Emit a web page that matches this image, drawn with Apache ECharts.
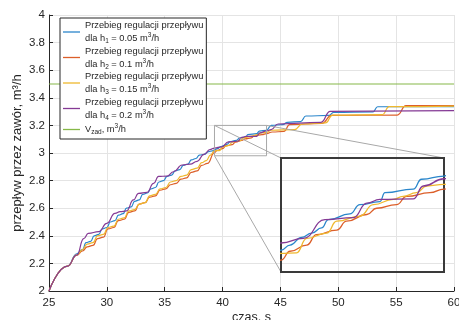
<!DOCTYPE html>
<html>
<head>
<meta charset="utf-8">
<script src="https://cdn.jsdelivr.net/npm/echarts@6/dist/echarts.min.js"></script>
<style>
  html, body { margin: 0; padding: 0; background: #fff; }
  #EChart { width: 459px; height: 320px; }
</style>
</head>
<body>
<div id="EChart"></div>
<script>
// czas [s], przepływ [m3/h]
const h1 = [[25,2.0],[26.6,2.18],[27.4,2.27],[27.9,2.30],[28.2,2.35],[28.6,2.36],[28.9,2.40],[29.3,2.41],[29.6,2.45],[30.0,2.46],
  [30.3,2.50],[30.7,2.51],[31.0,2.55],[31.4,2.56],[31.7,2.60],[32.1,2.61],[32.4,2.65],[32.8,2.66],[33.1,2.70],
  [33.5,2.71],[33.8,2.74],[34.2,2.75],[34.5,2.79],[34.9,2.80],[35.2,2.83],[35.6,2.84],[35.9,2.87],[36.3,2.88],
  [36.6,2.91],[37.0,2.92],[37.3,2.95],[37.7,2.96],[38.0,2.985],[38.4,2.99],[38.8,3.01],[39.1,3.015],
  [39.3,3.022],[39.55,3.032],[39.87,3.047],[40.15,3.055],[40.42,3.065],[40.61,3.081],[41.2,3.092],[41.48,3.110],
  [42.03,3.116],[42.17,3.133],[42.95,3.140],[43.18,3.159],[43.8,3.165],[44.2,3.2],[45.2,3.206],[45.6,3.222],
  [46.75,3.228],[47.2,3.268],[49.2,3.272],[49.6,3.295],[53.0,3.298],[53.4,3.335],[60,3.336]];
const h2 = [[25,2.0],[26.6,2.18],[27.4,2.26],[27.9,2.29],[28.3,2.32],[28.8,2.33],[29.2,2.38],[29.7,2.39],[30.1,2.45],[30.6,2.46],
  [31.0,2.51],[31.5,2.52],[31.9,2.57],[32.4,2.58],[32.8,2.63],[33.3,2.64],[33.7,2.68],[34.2,2.69],[34.6,2.73],
  [35.1,2.74],[35.5,2.77],[36.0,2.78],[36.4,2.81],[36.9,2.82],[37.3,2.86],[37.8,2.87],[38.2,2.91],[38.7,2.925],
  [39.3,3.003],[39.55,3.02],[40.01,3.032],[40.28,3.052],[40.84,3.061],[41.11,3.078],[41.67,3.091],[41.94,3.103],
  [42.49,3.11],[42.77,3.126],[43.41,3.133],[43.8,3.14],[44.3,3.152],[45.3,3.156],[45.8,3.205],[48.6,3.215],
  [49.4,3.272],[55.1,3.275],[55.85,3.343],[60,3.344]];
const h3 = [[25,2.0],[26.6,2.18],[27.4,2.26],[27.9,2.30],[28.3,2.34],[28.8,2.35],[29.2,2.40],[29.7,2.41],[30.1,2.46],[30.6,2.47],
  [31.0,2.52],[31.5,2.53],[31.9,2.58],[32.4,2.59],[32.8,2.63],[33.3,2.64],[33.7,2.69],[34.2,2.70],[34.6,2.74],
  [35.1,2.75],[35.5,2.79],[36.0,2.80],[36.4,2.83],[36.9,2.84],[37.3,2.88],[37.8,2.89],[38.2,2.93],[38.6,2.945],
  [38.95,2.985],[39.3,3.016],[39.73,3.017],[40.01,3.045],[40.56,3.055],[40.84,3.078],[41.48,3.088],[41.85,3.11],
  [42.4,3.12],[42.67,3.126],[43.04,3.133],[43.32,3.146],[43.8,3.149],[44.2,3.165],[46.2,3.17],[46.9,3.21],
  [48.9,3.218],[49.5,3.275],[53.8,3.278],[54.4,3.336],[60,3.34]];
const h4 = [[25,2.0],[26.6,2.18],[27.4,2.26],[28.0,2.38],[28.4,2.418],[29.3,2.43],[30.0,2.49],[30.7,2.563],[31.15,2.575],
  [31.7,2.58],[32.3,2.66],[32.74,2.708],[33.47,2.715],[34.04,2.78],[34.47,2.83],[35.2,2.833],[35.77,2.864],
  [36.5,2.913],[37.2,2.92],[37.8,2.94],[38.4,2.99],[38.9,3.025],[39.3,3.036],[39.92,3.045],[40.51,3.081],
  [41.3,3.085],[41.67,3.113],[42.03,3.12],[42.95,3.121],[43.23,3.146],[43.8,3.16],[44.2,3.17],[44.8,3.21],
  [48.5,3.222],[49.3,3.302],[60,3.307]];
const vZad = [[25,3.5],[60,3.5]];

const xTicks = [25, 60, 5];
const yTicks = [2, 4, 0.2];
const zoomX = [39.3, 43.8];
const zoomY = [2.98, 3.2];

const names = ['h1', 'h2', 'h3', 'h4', 'vz'];
const colors = ['#2a86cb', '#dc5f2a', '#efb82e', '#853a95', '#86b848'];
const lines = [h1, h2, h3, h4, vZad];
const legendText = {
  h1: '{t|Przebieg regulacji przepływu}\n{t|dla h}{sub|1}{t| = 0.05 m}{sup|3}{t|/h}',
  h2: '{t|Przebieg regulacji przepływu}\n{t|dla h}{sub|2}{t| = 0.1 m}{sup|3}{t|/h}',
  h3: '{t|Przebieg regulacji przepływu}\n{t|dla h}{sub|3}{t| = 0.15 m}{sup|3}{t|/h}',
  h4: '{t|Przebieg regulacji przepływu}\n{t|dla h}{sub|4}{t| = 0.2 m}{sup|3}{t|/h}',
  vz: '{t|V}{sub|zad}{t|, m}{sup|3}{t|/h}'
};

const font = 'Liberation Sans, Arial, sans-serif';
const axisCol = '#262626';

let series = [];
lines.forEach((d, i) => {
  series.push({
    name: names[i], type: 'line', data: d, showSymbol: false, symbol: 'none',
    smooth: i < 4 ? 0.5 : false, smoothMonotone: 'x',
    lineStyle: { color: colors[i], width: 1.2 }, itemStyle: { color: colors[i] },
    xAxisIndex: 0, yAxisIndex: 0, z: 3
  });
});
lines.slice(0, 4).forEach((d, i) => {
  series.push({
    name: names[i], type: 'line', data: d, showSymbol: false, symbol: 'none',
    smooth: 0.5, smoothMonotone: 'x', clip: true,
    lineStyle: { color: colors[i], width: 1.3 }, itemStyle: { color: colors[i] },
    xAxisIndex: 1, yAxisIndex: 1, z: 6
  });
});

let EChart = echarts.init(document.getElementById('EChart'));
let config = {
  animation: false,
  grid: [
    { left: 49, right: 5, top: 15, bottom: 29, containLabel: false, outerBoundsMode: 'none' },
    { left: 281, top: 158, width: 163, height: 114, show: true, borderColor: '#3a3a3a', borderWidth: 2,
      backgroundColor: 'transparent', z: 5, outerBoundsMode: 'none' }
  ],
  xAxis: [{
    type: 'value', min: xTicks[0], max: xTicks[1], interval: xTicks[2], gridIndex: 0,
    name: 'czas, s', nameLocation: 'middle', nameGap: 20, nameMoveOverlap: false,
    nameTextStyle: { color: axisCol, fontSize: 12.5, fontFamily: font, verticalAlign: 'top' },
    axisLine: { lineStyle: { color: axisCol, width: 1 } },
    axisTick: { inside: true, length: 4, lineStyle: { color: axisCol } },
    axisLabel: { color: axisCol, fontSize: 11.5, fontFamily: font, margin: 6 },
    splitLine: { show: true, lineStyle: { color: '#e4e4e4', width: 1 } }
  }, {
    type: 'value', min: zoomX[0], max: zoomX[1], gridIndex: 1,
    axisLine: { show: false }, axisTick: { show: false }, axisLabel: { show: false }, splitLine: { show: false }
  }],
  yAxis: [{
    type: 'value', min: yTicks[0], max: yTicks[1], interval: yTicks[2], gridIndex: 0,
    name: 'przepływ przez zawór, m³/h', nameLocation: 'middle', nameGap: 25, nameMoveOverlap: false,
    nameTextStyle: { color: axisCol, fontSize: 13, fontFamily: font },
    axisLine: { show: true, lineStyle: { color: axisCol, width: 1 } },
    axisTick: { show: true, inside: true, length: 4, lineStyle: { color: axisCol } },
    axisLabel: { color: axisCol, fontSize: 11.5, fontFamily: font, margin: 4,
      formatter: v => String(+v.toFixed(1)) },
    splitLine: { show: true, lineStyle: { color: '#e4e4e4', width: 1 } }
  }, {
    type: 'value', min: zoomY[0], max: zoomY[1], gridIndex: 1,
    axisLine: { show: false }, axisTick: { show: false }, axisLabel: { show: false }, splitLine: { show: false }
  }],
  legend: {
    data: names.map((n, i) => ({ name: n, icon: 'rect', itemStyle: { color: colors[i] } })),
    orient: 'vertical', left: 60, top: 18,
    padding: [3, 3, 3, 3], itemGap: 1.5, itemWidth: 17, itemHeight: 1.3,
    backgroundColor: '#fff', borderColor: axisCol, borderWidth: 1, borderRadius: 0,
    selectedMode: false, z: 10,
    formatter: n => legendText[n],
    textStyle: {
      color: axisCol, fontFamily: font,
      rich: {
        t: { fontSize: 9.3, lineHeight: 13, fontFamily: font, color: axisCol },
        sub: { fontSize: 6.5, lineHeight: 6, verticalAlign: 'bottom', fontFamily: font, color: axisCol },
        sup: { fontSize: 6.5, lineHeight: 6, verticalAlign: 'top', fontFamily: font, color: axisCol }
      }
    }
  },
  series: series
};
EChart.setOption(config);

// prostokąt powiększenia i linie łączące
function px(g, x, y) { return EChart.convertToPixel({ gridIndex: g }, [x, y]); }
const a = px(0, zoomX[0], zoomY[1]), b = px(0, zoomX[1], zoomY[0]);
const iTL = px(1, zoomX[0], zoomY[1]), iBL = px(1, zoomX[0], zoomY[0]), iTR = px(1, zoomX[1], zoomY[1]);
const gray = '#a8a8a8';
EChart.setOption({
  graphic: [
    { type: 'rect', shape: { x: a[0], y: a[1], width: b[0] - a[0], height: b[1] - a[1] },
      style: { fill: 'none', stroke: gray, lineWidth: 1 }, z: 4 },
    { type: 'polyline', shape: { points: [[a[0], a[1]], iTL] }, style: { stroke: gray, lineWidth: 1 }, z: 4 },
    { type: 'polyline', shape: { points: [[a[0], b[1]], iBL] }, style: { stroke: gray, lineWidth: 1 }, z: 4 },
    { type: 'polyline', shape: { points: [[b[0], a[1]], iTR] }, style: { stroke: gray, lineWidth: 1 }, z: 4 }
  ]
});
</script>
</body>
</html>
